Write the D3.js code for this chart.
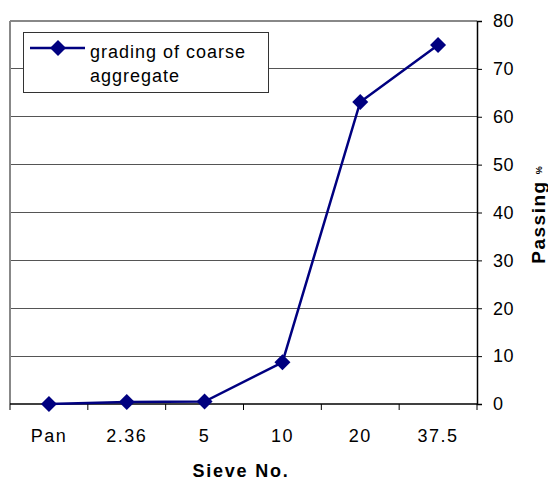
<!DOCTYPE html>
<html><head><meta charset="utf-8">
<script src="https://cdn.jsdelivr.net/npm/d3@7"></script>
<style>body{margin:0;background:#fff}svg{display:block}text{font-family:Arial,"Liberation Sans",sans-serif}</style>
</head><body>
<svg id="c" width="548" height="483"></svg>
<script>
const categories = ["Pan", "2.36", "5", "10", "20", "37.5"];
const passing = [0, 0.4, 0.5, 8.7, 63.1, 75];
const yTicks = [0, 10, 20, 30, 40, 50, 60, 70, 80];
const seriesName = ["grading of coarse", "aggregate"];

const svg = d3.select("#c");
const L = 10, R = 477, T = 21, B = 404;
const x = d3.scaleBand().domain(categories).range([L, R]);
const y = d3.scaleLinear().domain([0, 80]).range([B, T]);
const navy = "#000080";

// gridlines
svg.append("g").selectAll("line").data(yTicks.filter(d => d > 0 && d < 80)).join("line")
  .attr("x1", L).attr("x2", R).attr("y1", d => y(d)).attr("y2", d => y(d))
  .attr("stroke", "#555").attr("stroke-width", 1).attr("shape-rendering", "crispEdges");
// gray border top & left
svg.append("line").attr("x1", L).attr("x2", R).attr("y1", T).attr("y2", T)
  .attr("stroke", "#888").attr("stroke-width", 2).attr("shape-rendering", "crispEdges");
svg.append("line").attr("x1", L).attr("x2", L).attr("y1", T).attr("y2", B)
  .attr("stroke", "#888").attr("stroke-width", 2).attr("shape-rendering", "crispEdges");

// right axis
const ya = svg.append("g").attr("transform", `translate(${R},0)`)
  .call(d3.axisRight(y).tickValues(yTicks).tickSize(5).tickPadding(11));
ya.select(".domain").attr("stroke", "#000").attr("stroke-width", 1.5);
ya.selectAll(".tick line").attr("stroke", "#000");
ya.selectAll("text").attr("font-size", 18).attr("fill", "#000").attr("letter-spacing", "0.5px");

// bottom axis with ticks at band boundaries
const xa = svg.append("g").attr("transform", `translate(0,${B})`)
  .call(d3.axisBottom(x).tickSize(0).tickPadding(25));
xa.select(".domain").remove();
xa.selectAll("text").attr("font-size", 18).attr("fill", "#000").attr("dy", "0.71em").attr("letter-spacing", "1.5px");
svg.append("line").attr("x1", L).attr("x2", R).attr("y1", B).attr("y2", B)
  .attr("stroke", "#000").attr("stroke-width", 1.5);
const bounds = categories.map(c => x(c)).concat([R]);
svg.append("g").selectAll("line").data(bounds).join("line")
  .attr("x1", d => d).attr("x2", d => d).attr("y1", B).attr("y2", B + 6)
  .attr("stroke", "#000").attr("stroke-width", 1);

// line
const cx = d => x(d) + x.bandwidth() / 2;
svg.append("path").datum(passing)
  .attr("d", d3.line().x((d, i) => cx(categories[i])).y(d => y(d)))
  .attr("fill", "none").attr("stroke", navy).attr("stroke-width", 2.5);
const diamond = "M0,-8L8,0L0,8L-8,0Z";
svg.append("g").selectAll("path").data(passing).join("path")
  .attr("d", diamond)
  .attr("transform", (d, i) => `translate(${cx(categories[i])},${y(d)})`)
  .attr("fill", navy);

// legend
const lg = svg.append("g");
lg.append("rect").attr("x", 23.5).attr("y", 32.5).attr("width", 245).attr("height", 60)
  .attr("fill", "#fff").attr("stroke", "#333").attr("stroke-width", 1);
lg.append("line").attr("x1", 30).attr("x2", 85).attr("y1", 48).attr("y2", 48)
  .attr("stroke", navy).attr("stroke-width", 2.5);
lg.append("path").attr("d", diamond).attr("transform", "translate(58,48)").attr("fill", navy);
lg.selectAll("text").data(seriesName).join("text")
  .attr("x", 90).attr("y", (d, i) => 58 + i * 24)
  .attr("font-size", 18).attr("fill", "#000").attr("letter-spacing", "1px").text(d => d);

// axis titles
svg.append("text").attr("x", 241).attr("y", 477).attr("text-anchor", "middle")
  .attr("font-size", 18).attr("font-weight", "bold").attr("letter-spacing", "1.8px").text("Sieve No.");
const yt = svg.append("text").attr("transform", "translate(545,215) rotate(-90)")
  .attr("text-anchor", "middle").attr("font-weight", "bold");
yt.append("tspan").attr("font-size", 19).attr("letter-spacing", "1.5px").text("Passing");
yt.append("tspan").attr("font-size", 9).attr("dx", 6).attr("dy", -3).text("%");
</script>
</body></html>
